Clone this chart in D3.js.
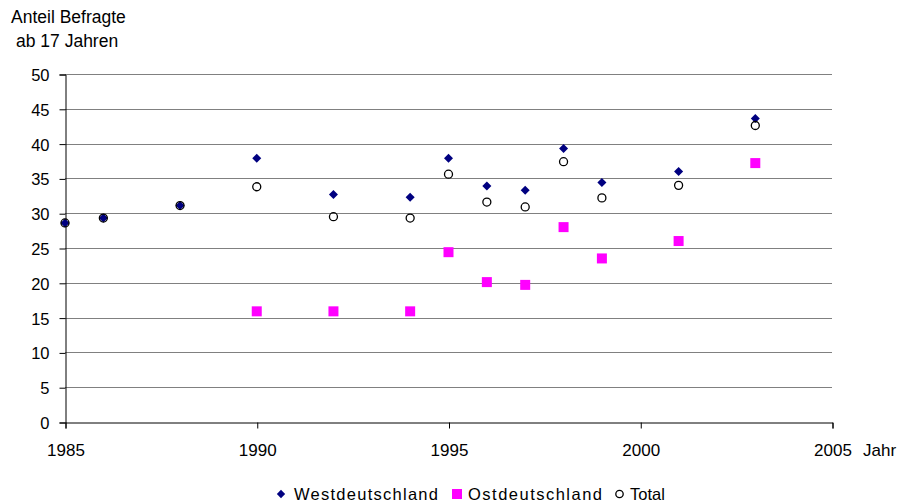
<!DOCTYPE html>
<html>
<head>
<meta charset="utf-8">
<script src="https://cdn.jsdelivr.net/npm/d3@7"></script>
<style>
  body { margin: 0; background: #fff; }
  text { font-family: "Liberation Sans", Arial, sans-serif; fill: #000; }
</style>
</head>
<body>
<svg id="chart" width="902" height="504"></svg>
<script>
// Survey share (percent of respondents aged 17+)
const yearsWest = [1985, 1986, 1988, 1990, 1992, 1994, 1995, 1996, 1997, 1998, 1999, 2001, 2003];
const westValues = [28.6, 29.3, 31.1, 37.9, 32.7, 32.3, 37.9, 33.9, 33.3, 39.3, 34.4, 36.0, 43.6];

const yearsEast = [1990, 1992, 1994, 1995, 1996, 1997, 1998, 1999, 2001, 2003];
const eastValues = [15.9, 15.9, 15.9, 24.4, 20.1, 19.7, 28.0, 23.5, 26.0, 37.2];

const yearsTotal = [1985, 1986, 1988, 1990, 1992, 1994, 1995, 1996, 1997, 1998, 1999, 2001, 2003];
const totalValues = [28.6, 29.3, 31.1, 33.8, 29.5, 29.3, 35.6, 31.6, 30.9, 37.4, 32.2, 34.0, 42.6];

const xTicks = [1985, 1990, 1995, 2000, 2005];
const yTicks = [0, 5, 10, 15, 20, 25, 30, 35, 40, 45, 50];
const legendLabels = ["Westdeutschland", "Ostdeutschland", "Total"];

const svg = d3.select("#chart");
const plotLeft = 65, plotRight = 832, plotTop = 74, plotBottom = 422;
const FONT = "Liberation Sans, Arial, sans-serif";

const x = d3.scaleLinear().domain([1985, 2005]).range([plotLeft, plotRight]);
const y = d3.scaleLinear().domain([0, 50]).range([plotBottom, plotTop]);

// horizontal gridlines
svg.append("g").selectAll("line").data(yTicks.filter(d => d > 0)).join("line")
  .attr("x1", plotLeft).attr("x2", plotRight)
  .attr("y1", d => Math.round(y(d)) + 0.5).attr("y2", d => Math.round(y(d)) + 0.5)
  .attr("stroke", "#808080").attr("stroke-width", 1);

// y axis
const yAxis = svg.append("g").attr("transform", `translate(${plotLeft + 0.5},0.5)`)
  .call(d3.axisLeft(y).tickValues(yTicks).tickSize(6).tickPadding(10));
yAxis.select(".domain").attr("stroke", "#000");
yAxis.selectAll(".tick line").attr("stroke", "#000");
yAxis.selectAll("text").attr("font-size", 16.5).attr("font-family", FONT).attr("dy", "0.36em");

// x axis
const xAxis = svg.append("g").attr("transform", `translate(0.5,${plotBottom + 0.5})`)
  .call(d3.axisBottom(x).tickValues(xTicks).tickFormat(d3.format("d")).tickSize(6).tickPadding(15));
xAxis.select(".domain").attr("stroke", "#000");
xAxis.selectAll(".tick line").attr("stroke", "#000");
xAxis.selectAll("text").attr("font-size", 17).attr("font-family", FONT);

// axis titles
svg.append("text").attr("x", 11).attr("y", 23).attr("font-size", 17.5).text("Anteil Befragte");
svg.append("text").attr("x", 16).attr("y", 47).attr("font-size", 17.5).text("ab 17 Jahren");
svg.append("text").attr("x", 863).attr("y", 456).attr("font-size", 17).text("Jahr");

const diamond = d3.symbol().type(d3.symbolDiamond2).size(52);

// Westdeutschland
svg.append("g").selectAll("path").data(yearsWest.map((yr, i) => [yr, westValues[i]])).join("path")
  .attr("d", diamond)
  .attr("transform", d => `translate(${x(d[0])},${y(d[1])})`)
  .attr("fill", "#000080");

// Ostdeutschland
svg.append("g").selectAll("rect").data(yearsEast.map((yr, i) => [yr, eastValues[i]])).join("rect")
  .attr("x", d => x(d[0]) - 5).attr("y", d => y(d[1]) - 5)
  .attr("width", 10).attr("height", 10)
  .attr("fill", "#ff00ff");

// Total
svg.append("g").selectAll("circle").data(yearsTotal.map((yr, i) => [yr, totalValues[i]])).join("circle")
  .attr("cx", d => x(d[0])).attr("cy", d => y(d[1]))
  .attr("r", 4).attr("fill", "none").attr("stroke", "#000").attr("stroke-width", 1.3);

// legend
const lg = svg.append("g");
const ly = 494;
lg.append("path").attr("d", d3.symbol().type(d3.symbolDiamond2).size(44))
  .attr("transform", `translate(281,${ly})`).attr("fill", "#000080");
lg.append("text").attr("x", 294).attr("y", ly + 6).attr("font-size", 16.5).attr("textLength", 144).text(legendLabels[0]);
lg.append("rect").attr("x", 452).attr("y", ly - 5).attr("width", 10).attr("height", 10).attr("fill", "#ff00ff");
lg.append("text").attr("x", 468).attr("y", ly + 6).attr("font-size", 16.5).attr("textLength", 134).text(legendLabels[1]);
lg.append("circle").attr("cx", 619.5).attr("cy", ly).attr("r", 3.7)
  .attr("fill", "none").attr("stroke", "#000").attr("stroke-width", 1.3);
lg.append("text").attr("x", 630).attr("y", ly + 6).attr("font-size", 16.5).text(legendLabels[2]);
</script>
</body>
</html>
